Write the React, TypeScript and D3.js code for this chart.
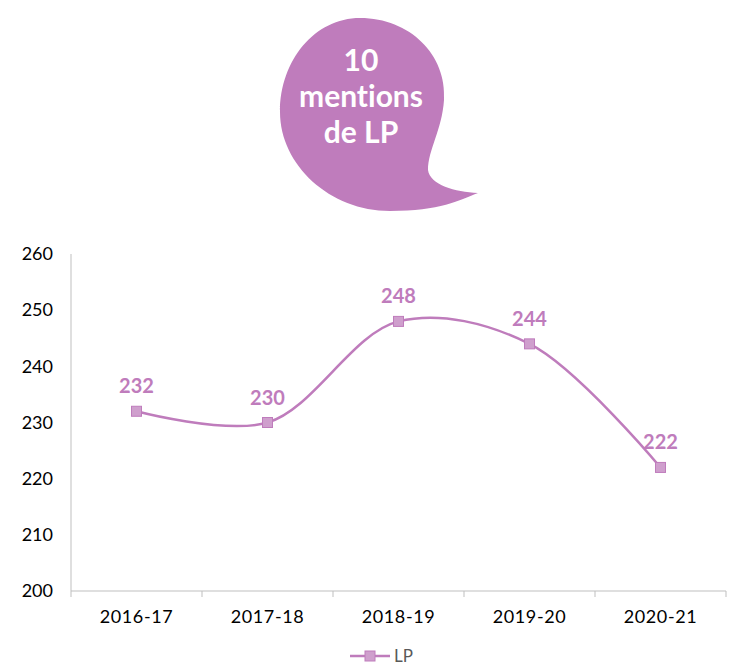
import React from "react";
import * as d3 from "d3";

const categories = ["2016-17", "2017-18", "2018-19", "2019-20", "2020-21"];
const values = [232, 230, 248, 244, 222];
const yTicks = [200, 210, 220, 230, 240, 250, 260];
const seriesName = "LP";
const bubbleLines = ["10", "mentions", "de LP"];

const W = 739;
const H = 669;
const left = 71;
const right = 726;
const top = 254;
const bottom = 591;
const purple = "#bf7cbc";
const font = "Lato, 'Open Sans', sans-serif";
const noLig = { fontVariantLigatures: "none", fontFeatureSettings: '"liga" 0, "clig" 0, "dlig" 0' } as React.CSSProperties;

export default function App() {
  const x = d3.scaleBand<string>().domain(categories).range([left, right]);
  const y = d3.scaleLinear().domain([200, 260]).range([bottom, top]);
  const pts: [number, number][] = values.map((v, i) => [x(categories[i])! + x.bandwidth() / 2, y(v)]);
  const line = d3.line().curve(d3.curveCatmullRom.alpha(0.5))(pts) || "";
  const bounds = categories.map((c) => x(c)!).concat([right]);
  const bubble =
    "M 360 18 C 410 18, 447 55, 444 100 C 442 130, 428 150, 428 170 C 430 185, 455 192, 478 193 C 460 200, 440 211, 390 211 C 330 211, 280 165, 280 112 C 280 60, 315 18, 360 18 Z";
  return (
    <svg width={W} height={H} style={{ position: "absolute", left: 0, top: 0 }}>
      <rect width={W} height={H} fill="#fff" />
      <path d={bubble} fill={purple} />
      {bubbleLines.map((t, i) => (
        <text key={t} x={361} y={71 + i * 36} textAnchor="middle" fill="#fff" fontFamily={font} fontWeight={700} fontSize={30} style={noLig}>
          {t}
        </text>
      ))}
      <line x1={left} x2={left} y1={top} y2={bottom} stroke="#bfbfbf" />
      <line x1={left} x2={right} y1={bottom} y2={bottom} stroke="#bfbfbf" />
      {bounds.map((b, i) => (
        <line key={i} x1={b} x2={b} y1={bottom} y2={bottom + 6} stroke="#bfbfbf" />
      ))}
      {yTicks.map((t) => (
        <text key={t} x={53} y={y(t)} dy="0.35em" textAnchor="end" fontFamily={font} fontSize={18} fill="#000">
          {t}
        </text>
      ))}
      {categories.map((c) => (
        <text key={c} x={x(c)! + x.bandwidth() / 2} y={623} textAnchor="middle" fontFamily={font} fontSize={18} letterSpacing={0.6} fill="#000">
          {c}
        </text>
      ))}
      <path d={line} fill="none" stroke={purple} strokeWidth={2.5} />
      {pts.map(([px, py], i) => (
        <g key={i}>
          <rect x={px - 5} y={py - 5} width={10} height={10} fill="#cf9fcd" stroke={purple} strokeWidth={1} />
          <text x={px} y={py - 18} textAnchor="middle" fontFamily={font} fontWeight={700} fontSize={20} fill={purple}>
            {values[i]}
          </text>
        </g>
      ))}
      <line x1={350} x2={390} y1={656} y2={656} stroke={purple} strokeWidth={2.5} />
      <rect x={365} y={651} width={10} height={10} fill="#cf9fcd" stroke={purple} />
      <text x={394} y={656} dy="0.35em" fontFamily={font} fontSize={17} fill="#595959">
        {seriesName}
      </text>
    </svg>
  );
}
